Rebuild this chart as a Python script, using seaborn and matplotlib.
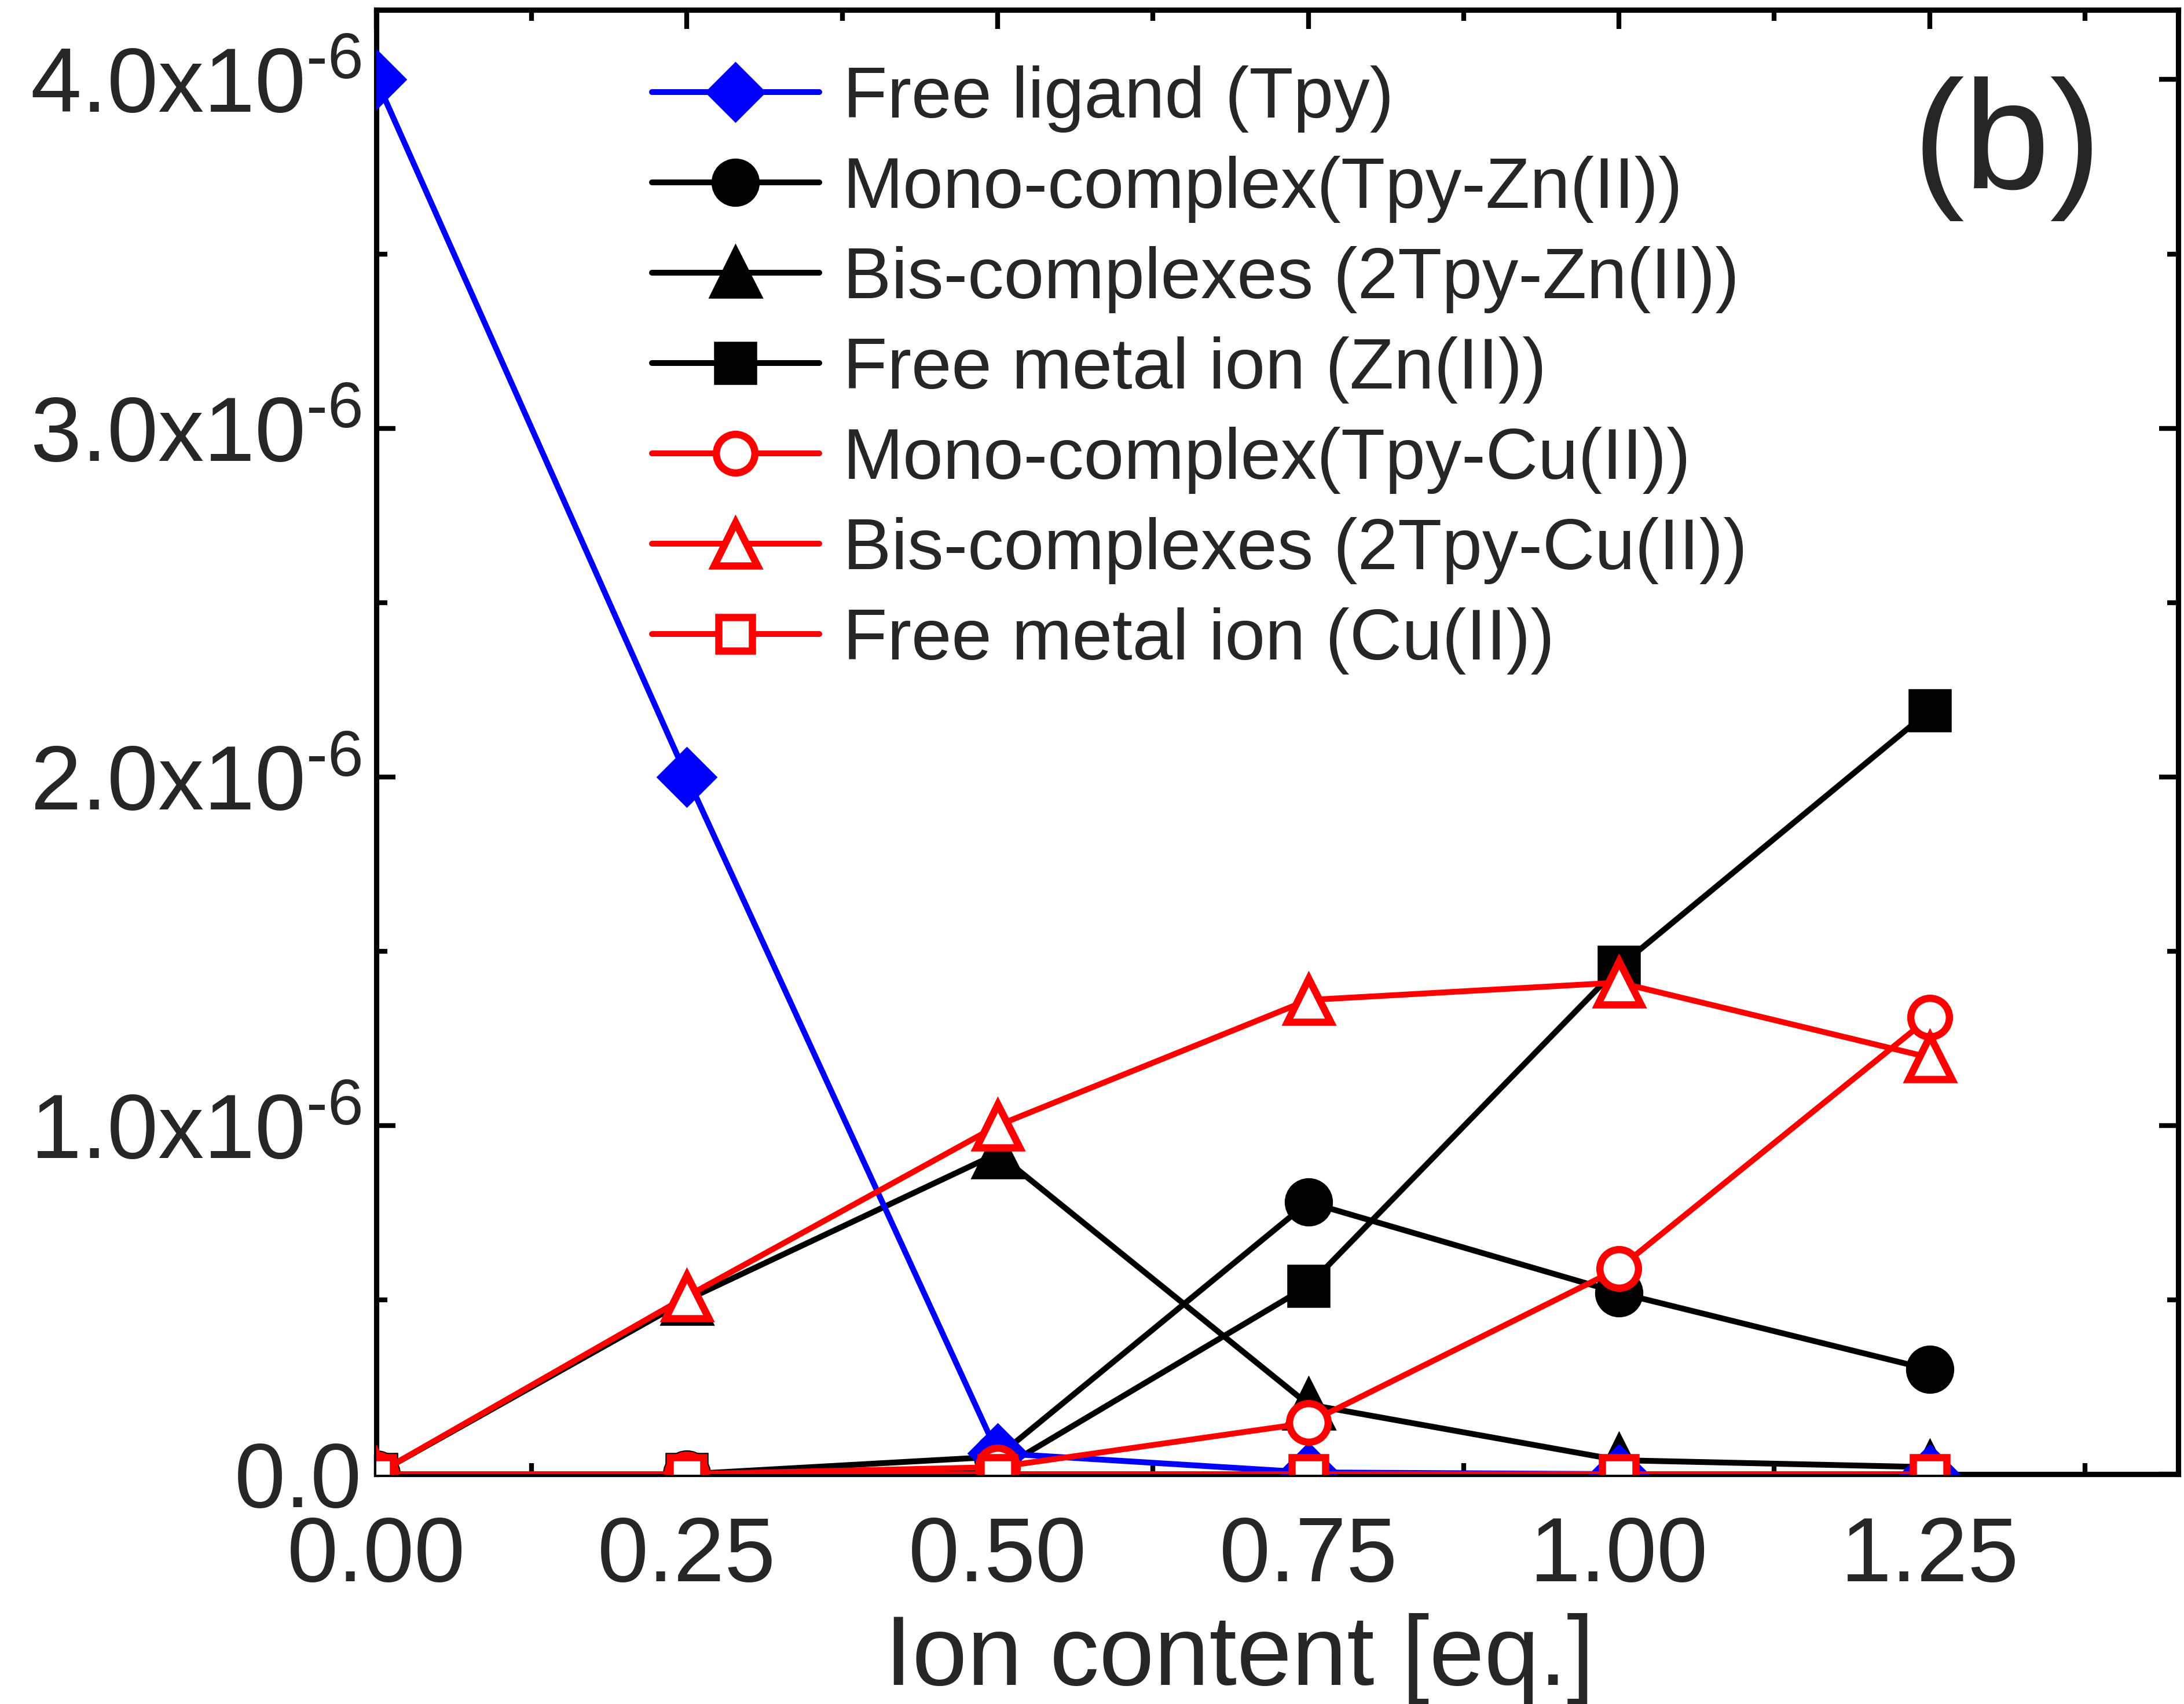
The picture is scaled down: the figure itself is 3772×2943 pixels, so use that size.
import matplotlib
matplotlib.use("Agg")
import matplotlib.pyplot as plt
import seaborn as sns
from matplotlib.ticker import MultipleLocator, FuncFormatter

# Ion content (equivalents of added metal ion)
ion_content = [0.0, 0.25, 0.50, 0.75, 1.00, 1.25]

# Species concentrations [M]
free_ligand_tpy = [4.0e-6, 2.0e-6, 0.06e-6, 0.005e-6, 0.0, 0.0]
mono_complex_zn = [0.0, 0.0, 0.05e-6, 0.78e-6, 0.52e-6, 0.30e-6]
bis_complex_zn = [0.0, 0.50e-6, 0.92e-6, 0.20e-6, 0.04e-6, 0.02e-6]
free_metal_zn = [0.0, 0.0, 0.01e-6, 0.54e-6, 1.455e-6, 2.19e-6]
mono_complex_cu = [0.0, 0.0, 0.02e-6, 0.147e-6, 0.59e-6, 1.31e-6]
bis_complex_cu = [0.0, 0.51e-6, 1.0e-6, 1.36e-6, 1.41e-6, 1.195e-6]
free_metal_cu = [0.0, 0.0, 0.0, 0.0, 0.0, 0.0]

series_labels = [
    "Free ligand (Tpy)",
    "Mono-complex(Tpy-Zn(II))",
    "Bis-complexes (2Tpy-Zn(II))",
    "Free metal ion (Zn(II))",
    "Mono-complex(Tpy-Cu(II))",
    "Bis-complexes (2Tpy-Cu(II))",
    "Free metal ion (Cu(II))",
]
x_tick_labels = ["0.00", "0.25", "0.50", "0.75", "1.00", "1.25"]
panel_label = "(b)"
x_label = "Ion content [eq.]"

series_values = [free_ligand_tpy, mono_complex_zn, bis_complex_zn, free_metal_zn,
                 mono_complex_cu, bis_complex_cu, free_metal_cu]

# color, marker, marker size, face color, z-order
styles = [
    ("#0000ff", "D", 15, "#0000ff", 3),
    ("#000000", "o", 17, "#000000", 2),
    ("#000000", "^", 18, "#000000", 2),
    ("#000000", "s", 15, "#000000", 2),
    ("#ff0000", "o", 16, "white", 4),
    ("#ff0000", "^", 18, "white", 4),
    ("#ff0000", "s", 14, "white", 4),
]

sns.set_style("ticks")
plt.rcParams["font.family"] = ["Liberation Sans", "DejaVu Sans"]
plt.rcParams["mathtext.fontset"] = "custom"
plt.rcParams["mathtext.rm"] = "Liberation Sans"
plt.rcParams["mathtext.it"] = "Liberation Sans:italic"
plt.rcParams["mathtext.bf"] = "Liberation Sans:bold"

fig = plt.figure(figsize=(3772 / 300, 2943 / 300), dpi=300)
ax = fig.add_axes([0.1723, 0.1349, 0.9973 - 0.1723, 0.9942 - 0.1349])

for vals, label, (col, mk, ms, fc, z) in zip(series_values, series_labels, styles):
    sns.lineplot(x=ion_content, y=vals, ax=ax, label=label, color=col,
                 linewidth=2.4, marker=mk, markersize=ms, markerfacecolor=fc,
                 markeredgecolor=col, markeredgewidth=3.0, zorder=z,
                 errorbar=None)

ax.set_xlim(0, 1.45)
ax.set_ylim(0, 4.2e-6)

ax.xaxis.set_major_locator(MultipleLocator(0.25))
ax.xaxis.set_minor_locator(MultipleLocator(0.125))
ax.yaxis.set_major_locator(MultipleLocator(1e-6))
ax.yaxis.set_minor_locator(MultipleLocator(0.5e-6))
ax.set_xticks([0, 0.25, 0.5, 0.75, 1.0, 1.25])
ax.set_xticklabels(x_tick_labels)


def sci_label(v, pos):
    m = v / 1e-6
    if abs(m) < 1e-9:
        return "0.0"
    return r"$%.1f\mathrm{x}10^{\text{-6}}$" % m


ax.yaxis.set_major_formatter(FuncFormatter(sci_label))

for side in ["left", "right", "top", "bottom"]:
    ax.spines[side].set_linewidth(2.2)
    ax.spines[side].set_color("black")

ax.tick_params(which="both", direction="in", top=True, right=True,
               width=2.0, color="black")
ax.tick_params(which="major", length=8, labelsize=38, pad=6)
ax.tick_params(which="minor", length=4.5)
ax.tick_params(axis="x", which="major", pad=17)

ax.set_xlabel(x_label, fontsize=41, labelpad=2)
ax.xaxis.set_label_coords(0.479, -0.095)

ax.text(0.905, 0.905, panel_label, transform=ax.transAxes, fontsize=64,
        ha="center", va="center")

leg = ax.legend(loc="upper left", bbox_to_anchor=(0.153, 0.962), frameon=False,
                fontsize=30, handlelength=2.31, handletextpad=0.33,
                labelspacing=0.32, borderpad=0, borderaxespad=0)

fig.savefig("out.png", dpi=300)
